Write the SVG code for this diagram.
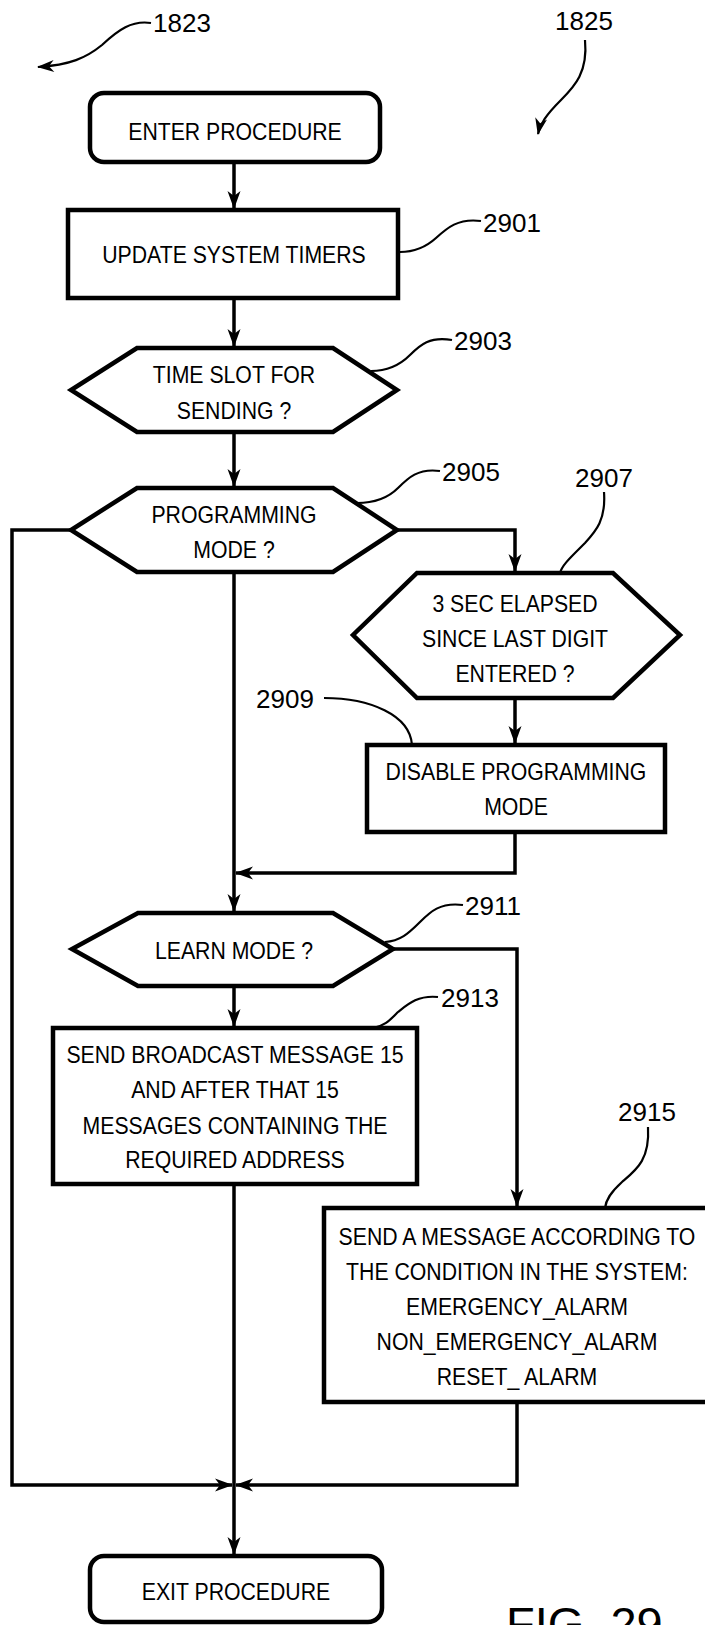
<svg xmlns="http://www.w3.org/2000/svg" width="705" height="1625" viewBox="0 0 705 1625">
<style>
.box{fill:#fff;stroke:#000;stroke-width:4.5;stroke-linejoin:miter}
.t{font-family:"Liberation Sans",Arial,sans-serif;font-size:24px;text-anchor:middle;fill:#000;transform-box:fill-box;transform-origin:center;transform:scaleX(0.885)}
.lbl{font-family:"Liberation Sans",Arial,sans-serif;font-size:26px;fill:#000}
.fig{font-family:"Liberation Sans",Arial,sans-serif;font-size:47px;fill:#000}
.c{fill:none;stroke:#000;stroke-width:3.5;stroke-linejoin:miter}
.ld{fill:none;stroke:#000;stroke-width:2.2}
</style>
<defs>
<marker id="ah" viewBox="-20 -10 22 20" markerWidth="22" markerHeight="20" refX="0" refY="0" orient="auto" markerUnits="userSpaceOnUse">
<path d="M1,0 L-17,-6.5 L-12,0 L-17,6.5 Z" fill="#000"/>
</marker>
<marker id="ahs" viewBox="-20 -10 22 20" markerWidth="22" markerHeight="20" refX="0" refY="0" orient="auto" markerUnits="userSpaceOnUse">
<path d="M1,0 L-16,-6 L-11,0 L-16,6 Z" fill="#000"/>
</marker>
</defs>
<rect width="705" height="1625" fill="#fff"/>

<g id="connectors">
<path class="c" d="M234,162 V208" marker-end="url(#ah)"/>
<path class="c" d="M234,298 V346" marker-end="url(#ah)"/>
<path class="c" d="M234,432 V486" marker-end="url(#ah)"/>
<path class="c" d="M397,530 H515 V571" marker-end="url(#ah)"/>
<path class="c" d="M515,698 V743" marker-end="url(#ah)"/>
<path class="c" d="M515,832 V873 H236" marker-end="url(#ah)"/>
<path class="c" d="M234,572 V911" marker-end="url(#ah)"/>
<path class="c" d="M234,986 V1026" marker-end="url(#ah)"/>
<path class="c" d="M393,949 H517 V1206" marker-end="url(#ah)"/>
<path class="c" d="M71,530 H12 V1485 H232" marker-end="url(#ah)"/>
<path class="c" d="M517,1402 V1485 H236" marker-end="url(#ah)"/>
<path class="c" d="M234,1184 V1554" marker-end="url(#ah)"/>
</g>

<g id="refs">
<path class="ld" d="M151,23 C132,20 118,30 102,45 C86,58 70,65 38,67" marker-end="url(#ahs)"/>
<text class="lbl" x="153" y="32">1823</text>
<path class="ld" d="M585,40 C588,72 575,86 561,100 C546,115 540,124 538,134" marker-end="url(#ahs)"/>
<text class="lbl" x="555" y="30">1825</text>
</g>

<g id="enter">
<rect class="box" x="90" y="93" width="290" height="69" rx="14"/>
<text class="t" x="235" y="140">ENTER PROCEDURE</text>
</g>

<g id="n2901">
<rect class="box" x="68" y="210" width="330" height="88"/>
<text class="t" x="234" y="263">UPDATE SYSTEM TIMERS</text>
<path class="ld" d="M481,221 C458,218 447,228 436,238 C425,248 414,252 400,252"/>
<text class="lbl" x="483" y="232">2901</text>
</g>

<g id="n2903">
<polygon class="box" points="137,348 333,348 397,390 333,432 137,432 71,390"/>
<text class="t" x="234" y="383">TIME SLOT FOR</text>
<text class="t" x="234" y="419">SENDING ?</text>
<path class="ld" d="M452,340 C430,336 420,345 410,355 C400,365 386,371 371,371"/>
<text class="lbl" x="454" y="350">2903</text>
</g>

<g id="n2905">
<polygon class="box" points="137,488 333,488 397,530 333,572 137,572 71,530"/>
<text class="t" x="234" y="523">PROGRAMMING</text>
<text class="t" x="234" y="558">MODE ?</text>
<path class="ld" d="M440,471 C418,468 408,478 398,488 C388,498 375,503 357,503"/>
<text class="lbl" x="442" y="481">2905</text>
</g>

<g id="n2907">
<polygon class="box" points="417,573 613,573 680,635 613,698 417,698 353,635"/>
<text class="t" x="515" y="612">3 SEC ELAPSED</text>
<text class="t" x="515" y="647">SINCE LAST DIGIT</text>
<text class="t" x="515" y="682">ENTERED ?</text>
<path class="ld" d="M604,492 C606,520 596,531 585,543 C571,557 562,565 560,573"/>
<text class="lbl" x="575" y="487">2907</text>
</g>

<g id="n2909">
<rect class="box" x="367" y="745" width="298" height="87"/>
<text class="t" x="516" y="780">DISABLE PROGRAMMING</text>
<text class="t" x="516" y="815">MODE</text>
<path class="ld" d="M324,698 C370,698 410,715 412,745"/>
<text class="lbl" x="256" y="708">2909</text>
</g>

<g id="n2911">
<polygon class="box" points="138,913 333,913 393,949 333,986 138,986 72,949"/>
<text class="t" x="234" y="959">LEARN MODE ?</text>
<path class="ld" d="M463,905 C440,902 430,912 420,922 C408,934 400,941 385,942"/>
<text class="lbl" x="465" y="915">2911</text>
</g>

<g id="n2913">
<rect class="box" x="53" y="1028" width="364" height="156"/>
<text class="t" x="235" y="1063">SEND BROADCAST MESSAGE 15</text>
<text class="t" x="235" y="1098">AND AFTER THAT 15</text>
<text class="t" x="235" y="1134">MESSAGES CONTAINING THE</text>
<text class="t" x="235" y="1168">REQUIRED ADDRESS</text>
<path class="ld" d="M438,997 C418,995 408,1004 398,1012 C390,1020 385,1026 373,1028"/>
<text class="lbl" x="441" y="1007">2913</text>
</g>

<g id="n2915">
<rect class="box" x="324" y="1208" width="400" height="194"/>
<text class="t" x="517" y="1245">SEND A MESSAGE ACCORDING TO</text>
<text class="t" x="517" y="1280">THE CONDITION IN THE SYSTEM:</text>
<text class="t" x="517" y="1315">EMERGENCY_ALARM</text>
<text class="t" x="517" y="1350">NON_EMERGENCY_ALARM</text>
<text class="t" x="517" y="1385">RESET_ ALARM</text>
<path class="ld" d="M648,1127 C650,1160 636,1170 622,1182 C610,1193 606,1200 605,1208"/>
<text class="lbl" x="618" y="1121">2915</text>
</g>

<g id="exit">
<rect class="box" x="90" y="1556" width="292" height="66" rx="14"/>
<text class="t" x="236" y="1600">EXIT PROCEDURE</text>
</g>

<text class="fig" x="506" y="1640">FIG. 29</text>
</svg>
